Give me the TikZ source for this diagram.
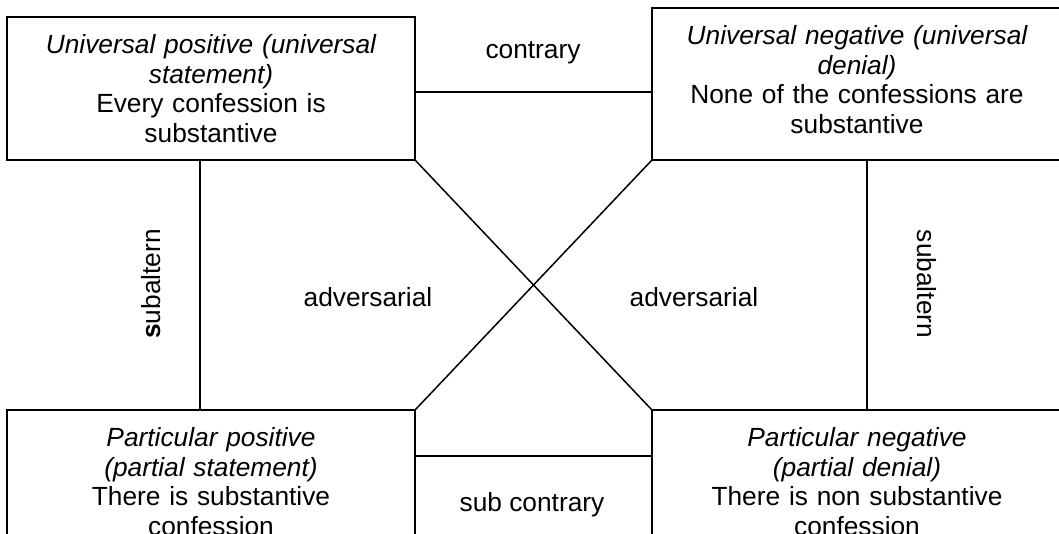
\documentclass[tikz,border=0pt]{standalone}
\usepackage{fontspec}
\setmainfont{Liberation Sans}
\usetikzlibrary{calc}
\begin{document}
\begin{tikzpicture}[x=1pt,y=-1pt,
  every node/.style={font=\fontsize{26.3}{29.7}\selectfont},
  box/.style={draw,line width=1.5pt,rectangle,inner sep=0pt,text width=400pt,align=center},
  lab/.style={anchor=base,inner sep=0pt},
  conn/.style={line width=1.5pt}]
\useasboundingbox (0,0) rectangle (1059,533);
\clip (0,0) rectangle (1059,533);
\fill[white] (0,0) rectangle (1059,533);
\node[box,minimum width=408pt,minimum height=143pt] (tl) at (211,88.5)
  {\itshape Universal positive (universal\\ statement)\\ \upshape Every confession is\\ substantive};
\node[box,minimum width=410pt,minimum height=152pt,text depth=98pt] (tr) at (857,84)
  {\itshape Universal negative (universal\\ denial)\\ \upshape None of the confessions are\\ substantive};
\node[box,minimum width=408pt,minimum height=143pt] (bl) at (211,481.5)
  {\itshape Particular positive\\ (partial statement)\\ \upshape There is substantive\\ confession};
\node[box,minimum width=410pt,minimum height=143pt] (br) at (857,481.5)
  {\itshape Particular negative\\ (partial denial)\\ \upshape There is non substantive\\ confession};
% contrary
\draw[conn] ($(tl.north east)!0.524!(tl.south east)$) coordinate (c1) -- (c1 -| tr.west);
% sub contrary
\draw[conn] ($(bl.north east)!0.322!(bl.south east)$) coordinate (c2) -- (c2 -| br.west);
% diagonals
\draw[conn] (tl.south east) -- (br.north west);
\draw[conn] (tr.south west) -- (bl.north east);
% subaltern verticals
\draw[conn] ($(tl.south west)!0.473!(tl.south east)$) coordinate (c3) -- (c3 |- bl.north);
\draw[conn] ($(tr.south west)!0.524!(tr.south east)$) coordinate (c4) -- (c4 |- br.north);
% labels
\node[lab] (lcon) at (533,58) {contrary};
\node[lab] (lsub) at (532,511) {sub contrary};
\node[lab] (ladv1) at (368,306.5) {adversarial};
\node[lab] (ladv2) at (694,306.5) {adversarial};
\node[lab,rotate=90] (lsa1) at (160,284) {\textbf{s}ubaltern};
\node[lab,rotate=-90] (lsa2) at (917,284) {subaltern};
\end{tikzpicture}
\end{document}
